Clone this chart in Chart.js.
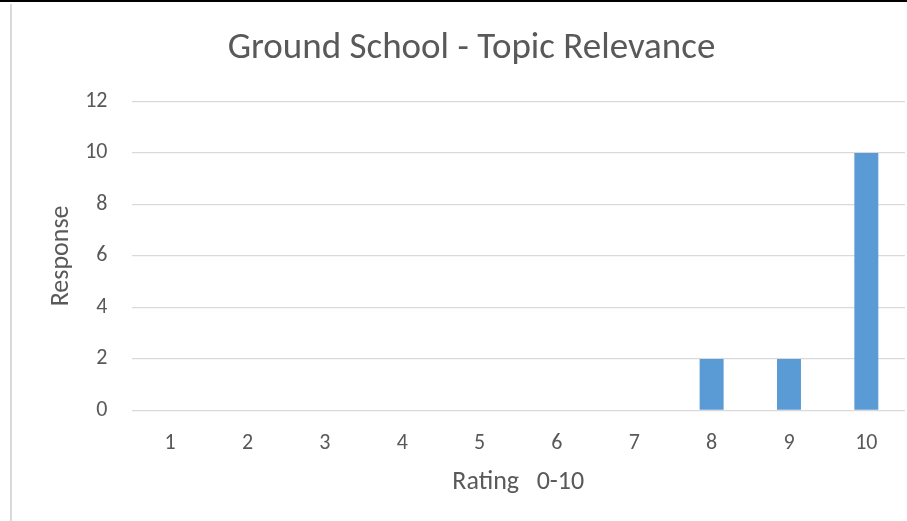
<!DOCTYPE html>
<html>
<head>
<meta charset="utf-8">
<script src="https://cdn.jsdelivr.net/npm/chart.js@4"></script>
<style>
    html, body { margin: 0; padding: 0; background: #fff; }
    #frame {
        position: absolute; left: 0; top: 0; width: 907px; height: 521px;
        border-top: 2px solid #000; box-sizing: border-box;
    }
    #inner {
        position: absolute; left: 10px; top: 2px; right: 0; bottom: 0;
        border-left: 2px solid #d9d9d9;
    }
    #box { position: absolute; left: 0; top: 0; width: 895px; height: 517px; }
</style>
</head>
<body>
<div id="frame"><div id="inner"><div id="box"><canvas id="ratingChart"></canvas></div></div></div>
<script>
// Ground School - Topic Relevance
const ratings = ['1', '2', '3', '4', '5', '6', '7', '8', '9', '10'];
const responses = [0, 0, 0, 0, 0, 0, 0, 2, 2, 10];

const textColor = '#595959';
const fontFamily = 'Carlito, Calibri, "Open Sans", sans-serif';

const ctx = document.getElementById('ratingChart').getContext('2d');
new Chart(ctx, {
    type: 'bar',
    data: {
        labels: ratings,
        datasets: [{
            label: 'Response',
            data: responses,
            backgroundColor: '#5b9bd5',
            categoryPercentage: 1,
            barPercentage: 0.31
        }]
    },
    options: {
        responsive: true,
        maintainAspectRatio: false,
        animation: false,
        layout: { padding: { left: 26, right: 2, top: 6, bottom: 23 } },
        plugins: {
            legend: { display: false },
            tooltip: { enabled: false },
            title: {
                display: true,
                text: 'Ground School - Topic Relevance',
                color: textColor,
                font: { family: fontFamily, size: 37, weight: 'normal' },
                padding: { top: 17, bottom: 30 }
            }
        },
        scales: {
            x: {
                grid: { display: false },
                border: { display: false },
                ticks: { color: textColor, font: { family: fontFamily, size: 22 }, padding: 12 },
                title: {
                    display: true,
                    text: 'Rating   0-10',
                    color: textColor,
                    font: { family: fontFamily, size: 26 },
                    padding: { top: -2, bottom: 0 }
                }
            },
            y: {
                min: 0,
                max: 12,
                ticks: { stepSize: 2, color: textColor, font: { family: fontFamily, size: 22 }, padding: 24 },
                grid: { color: '#d9d9d9', lineWidth: 1.3, drawTicks: false },
                border: { display: false },
                title: {
                    display: true,
                    text: 'Response',
                    color: textColor,
                    font: { family: fontFamily, size: 26 },
                    padding: { top: 8, bottom: -16 }
                }
            }
        }
    }
});
</script>
</body>
</html>
